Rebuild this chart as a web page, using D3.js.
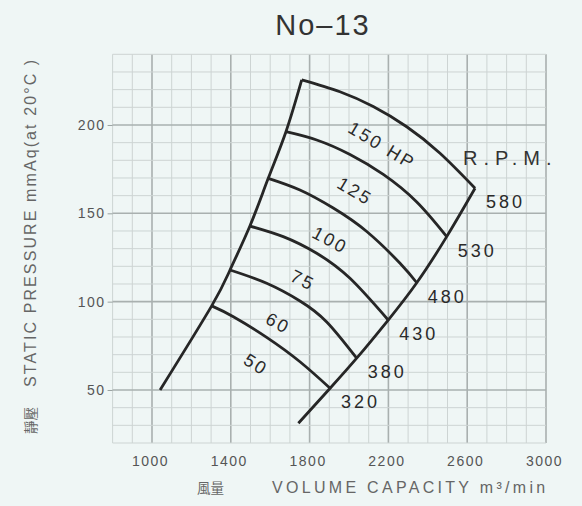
<!DOCTYPE html>
<html>
<head>
<meta charset="utf-8">
<script src="https://d3js.org/d3.v7.min.js"></script>
<style>
  body { margin: 0; background: #eff6f5; }
  svg { display: block; }
  text { font-family: "Liberation Sans", Arial, sans-serif; }
  text.cjk { font-family: "Noto Sans CJK TC", "Noto Sans CJK JP", sans-serif; }
</style>
</head>
<body>
<div id="chart"></div>
<script>
// axis ticks
const volumeTicks = [1000, 1400, 1800, 2200, 2600, 3000];
const pressureTicks = [50, 100, 150, 200];

// curve labels
const hpLabels = ["150 HP", "125", "100", "75", "60", "50"];
const rpmLabels = ["580", "530", "480", "430", "380", "320"];

// HP curves, [volume m3/min, static pressure mmAq]
const hp150 = [[1760, 225.5], [1954, 218.8], [2123, 210.4], [2293, 199], [2462, 184], [2640, 164.2]];
const hp125 = [[1680, 196.2], [1836, 191.5], [2005, 183.3], [2174, 172], [2344, 156.4], [2496, 136.8]];
const hp100 = [[1590, 169.8], [1751, 163.2], [1920, 153], [2090, 139.7], [2259, 121.7], [2344, 110.7]];
const hp75 = [[1497, 142.8], [1666, 136.8], [1836, 127.4], [2005, 113.2], [2199, 89.6]];
const hp60 = [[1396, 117.9], [1582, 110.4], [1751, 100.4], [1887, 88.5], [2039, 68]];
const hp50 = [[1303, 97.6], [1413, 91.5], [1582, 79.8], [1751, 66], [1904, 51]];

// loose ends of the two boundary lines
const surgeStart = [1041, 50];
const rpmLineEnd = [1743, 31.2];

const curves = [hp150, hp125, hp100, hp75, hp60, hp50];

const W = 582, H = 506;
const x = d3.scaleLinear().domain([800, 3000]).range([112.6, 546]);
const y = d3.scaleLinear().domain([20, 240]).range([443, 54.3]);

const svg = d3.select("#chart").append("svg")
  .attr("width", W).attr("height", H);

svg.append("rect").attr("width", W).attr("height", H).attr("fill", "#eff6f5");

// grid
const grid = svg.append("g");
const vMinor = d3.range(800, 3001, 100);
const pMinor = d3.range(20, 241, 10);
grid.selectAll("line.v").data(vMinor).enter().append("line")
  .attr("x1", d => x(d)).attr("x2", d => x(d))
  .attr("y1", y(240)).attr("y2", y(20))
  .attr("stroke", d => (d - 1000) % 400 === 0 ? "#a9b0af" : "#cdd4d3")
  .attr("stroke-width", d => (d - 1000) % 400 === 0 ? 1.6 : 1);
grid.selectAll("line.h").data(pMinor).enter().append("line")
  .attr("y1", d => y(d)).attr("y2", d => y(d))
  .attr("x1", x(800)).attr("x2", x(3000))
  .attr("stroke", d => d % 50 === 0 ? "#a9b0af" : "#cdd4d3")
  .attr("stroke-width", d => d % 50 === 0 ? 1.6 : 1);

// axes
const yAxis = svg.append("g")
  .attr("transform", "translate(" + x(800) + ",0)")
  .call(d3.axisLeft(y).tickValues(pressureTicks).tickSize(5).tickPadding(2));
const xAxis = svg.append("g")
  .attr("transform", "translate(0," + (y(20) + 1) + ")")
  .call(d3.axisBottom(x).tickValues(volumeTicks).tickFormat(d3.format("d"))
    .tickSize(0).tickPadding(12));
[xAxis, yAxis].forEach(a => {
  a.select(".domain").remove();
  a.selectAll(".tick line").attr("stroke", "#9aa2a1");
  a.selectAll(".tick text").attr("fill", "#555").style("font-size", "14px")
    .style("letter-spacing", "1.5px").style("font-family", "'Liberation Sans', Arial, sans-serif");
});
xAxis.selectAll(".tick text").attr("dx", "-2");

// title
svg.append("text").attr("x", 323).attr("y", 35).attr("text-anchor", "middle")
  .attr("fill", "#333").style("font-size", "29px").style("letter-spacing", "2px")
  .text("No–13");

// axis titles
svg.append("text").attr("class", "cjk").attr("x", 197).attr("y", 493).attr("fill", "#666")
  .style("font-size", "13.5px").text("風量");
svg.append("text").attr("x", 272).attr("y", 493).attr("fill", "#666")
  .style("font-size", "16px").style("letter-spacing", "3.3px")
  .text("VOLUME CAPACITY m³/min");
svg.append("text").attr("class", "cjk").attr("transform", "translate(36,434) rotate(-90)")
  .attr("fill", "#666").style("font-size", "13.5px").text("靜壓");
svg.append("text").attr("transform", "translate(36,387) rotate(-90)")
  .attr("fill", "#666").style("font-size", "16px").style("letter-spacing", "2.1px")
  .text("STATIC PRESSURE mmAq(at 20°C )");

// curves
const line = d3.line().x(d => x(d[0])).y(d => y(d[1])).curve(d3.curveNatural);
const plot = svg.append("g").attr("fill", "none").attr("stroke", "#262626")
  .attr("stroke-width", 2.8).attr("stroke-linejoin", "round");

curves.forEach(c => plot.append("path").attr("d", line(c)));

const surge = [surgeStart].concat(curves.map(c => c[0]).reverse());
plot.append("path").attr("d", line(surge));
const rpmLine = [rpmLineEnd].concat(curves.map(c => c[c.length - 1]).reverse());
plot.append("path").attr("d", line(rpmLine));

// HP labels below each curve
const labelVol = [2167, 2030, 1904, 1766, 1640, 1528];
curves.forEach((c, i) => {
  const px = c.map(d => [x(d[0]), y(d[1])]);
  const tx = x(labelVol[i]);
  let k = 0;
  while (k < px.length - 2 && px[k + 1][0] < tx) k++;
  const a = px[k], b = px[k + 1];
  const t = (tx - a[0]) / (b[0] - a[0]);
  const cy = a[1] + t * (b[1] - a[1]);
  const ang = Math.atan2(b[1] - a[1], b[0] - a[0]) * 180 / Math.PI;
  svg.append("text")
    .attr("transform", "translate(" + tx + "," + (cy + 34) + ") rotate(" + ang + ")")
    .attr("text-anchor", "middle").attr("dominant-baseline", "central")
    .attr("fill", "#2a2a2a").style("font-size", "18px").style("letter-spacing", "2.5px")
    .text(hpLabels[i]);
});

// RPM labels at the right end of each curve
curves.forEach((c, i) => {
  const e = c[c.length - 1];
  svg.append("text").attr("x", x(e[0]) + 11).attr("y", y(e[1]) + 20)
    .attr("fill", "#2a2a2a").style("font-size", "18px").style("letter-spacing", "3px")
    .text(rpmLabels[i]);
});
svg.append("text").attr("x", 463).attr("y", 165).attr("fill", "#333")
  .style("font-size", "20px").style("letter-spacing", "6px")
  .text("R.P.M.");
</script>
</body>
</html>
